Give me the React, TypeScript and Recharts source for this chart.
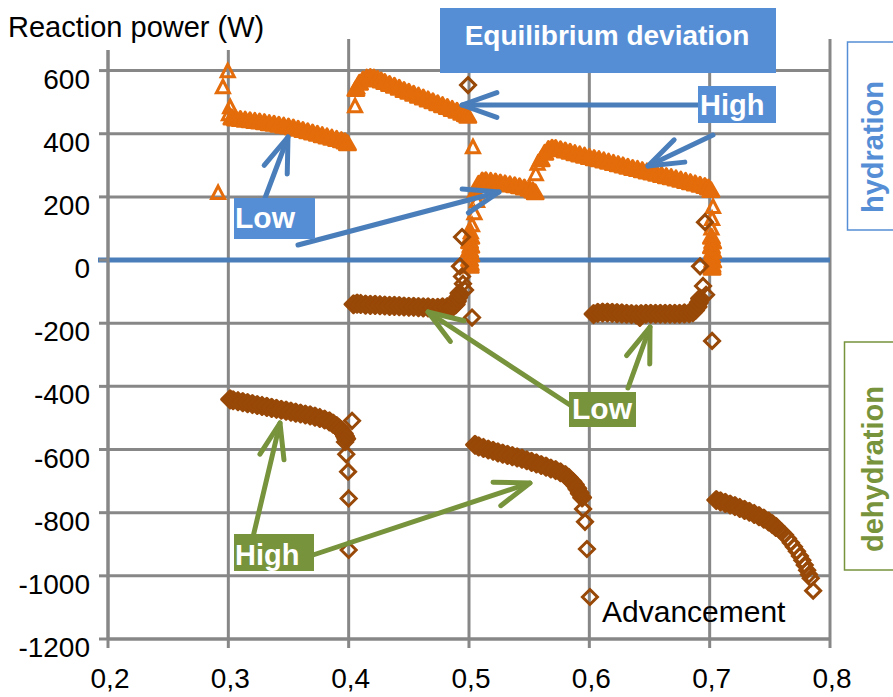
import { ScatterChart, Scatter, XAxis, YAxis, CartesianGrid, ReferenceLine } from "recharts";

const FONT = '"Liberation Sans", Arial, sans-serif';
const ORANGE = "#e46c0a";
const BROWN = "#984807";
const GRID = "#878787";
const BLUE_BOX = "#558ed5";
const BLUE_ARROW = "#4a7ebb";
const GREEN = "#77933c";

const xTicks = [0.2, 0.3, 0.4, 0.5, 0.6, 0.7, 0.8];
const yTicks = [-1200, -1000, -800, -600, -400, -200, 0, 200, 400, 600];

type Pt = [number, number];

// hydration (orange triangles) - dense runs
const hydRunA: Pt[] = [
  [0.303, 450], [0.306, 447], [0.31, 445], [0.314, 443], [0.318, 441], [0.322, 439], [0.326, 437],
  [0.33, 435], [0.334, 432], [0.338, 430], [0.342, 427], [0.346, 424], [0.35, 421], [0.354, 418],
  [0.358, 414], [0.362, 410], [0.366, 406], [0.37, 402], [0.374, 398], [0.378, 394], [0.382, 390],
  [0.386, 386], [0.39, 382], [0.394, 378], [0.397, 374], [0.399, 368],
];
const hydRunB: Pt[] = [
  [0.406, 540], [0.409, 560], [0.412, 570], [0.415, 576], [0.418, 578], [0.421, 576], [0.424, 572],
  [0.427, 567], [0.43, 562], [0.434, 556], [0.438, 550], [0.442, 544], [0.446, 537], [0.45, 531],
  [0.454, 525], [0.458, 519], [0.462, 513], [0.466, 507], [0.47, 501], [0.474, 495], [0.478, 489],
  [0.482, 483], [0.486, 477], [0.49, 471], [0.494, 465], [0.497, 460], [0.499, 455],
];
const hydCol05: Pt[] = [
  [0.5015, 72], [0.5005, 58], [0.5015, 44], [0.5005, 30], [0.5015, 16], [0.5005, 2], [0.501, -12], [0.501, -20],
];
const hydRunC: Pt[] = [
  [0.5055, 215], [0.508, 240], [0.511, 250], [0.514, 251], [0.518, 249], [0.522, 247], [0.526, 244],
  [0.53, 241], [0.534, 238], [0.538, 235], [0.542, 232], [0.546, 228], [0.55, 224], [0.553, 219], [0.555, 213],
];
const hydRunD: Pt[] = [
  [0.56, 318], [0.563, 338], [0.566, 350], [0.569, 354], [0.572, 353], [0.576, 349], [0.58, 345],
  [0.584, 341], [0.588, 337], [0.592, 333], [0.596, 329], [0.6, 325], [0.604, 321], [0.608, 318],
  [0.612, 314], [0.616, 310], [0.62, 306], [0.624, 302], [0.628, 298], [0.632, 294], [0.636, 290],
  [0.64, 287], [0.644, 283], [0.648, 279], [0.652, 276], [0.656, 272], [0.66, 268], [0.664, 264],
  [0.668, 261], [0.672, 257], [0.676, 253], [0.68, 249], [0.684, 245], [0.688, 241], [0.692, 237],
  [0.696, 233], [0.699, 228], [0.701, 220],
];
const hydCol07: Pt[] = [
  [0.7015, 72], [0.7025, 57], [0.7015, 42], [0.7025, 27], [0.7015, 12], [0.7025, -3], [0.702, -18], [0.702, -26],
];
const hydSparse: Pt[] = [
  [0.2915, 212], [0.2955, 547], [0.2995, 598], [0.3015, 484], [0.3005, 462],
  [0.4053, 487], [0.407, 547],
  [0.5033, 357], [0.5067, 187], [0.5045, 148], [0.5025, 110], [0.5015, 88],
  [0.5555, 272], [0.557, 305],
  [0.7028, 168], [0.702, 130], [0.7015, 100],
];

// dehydration (brown diamonds) - dense runs
const dehRunE: Pt[] = [
  [0.3015, -441], [0.304, -444], [0.308, -447], [0.312, -450], [0.316, -453], [0.32, -456], [0.324, -459],
  [0.328, -462], [0.332, -465], [0.336, -468], [0.34, -471], [0.344, -474], [0.348, -477], [0.352, -480],
  [0.356, -483], [0.36, -486], [0.364, -489], [0.368, -492], [0.372, -496], [0.376, -500], [0.38, -505],
  [0.384, -511], [0.387, -518], [0.39, -526], [0.392, -533], [0.394, -541], [0.396, -550], [0.397, -558],
  [0.398, -566],
];
const dehRunF: Pt[] = [
  [0.404, -140], [0.407, -138], [0.41, -139], [0.414, -141], [0.418, -142], [0.422, -142], [0.426, -143],
  [0.43, -144], [0.434, -145], [0.438, -145], [0.442, -146], [0.446, -147], [0.45, -148], [0.454, -148],
  [0.458, -149], [0.462, -150], [0.466, -150], [0.47, -151], [0.474, -151], [0.478, -150], [0.482, -149],
  [0.485, -148], [0.487, -146], [0.489, -140], [0.49, -130], [0.491, -118], [0.492, -105],
];
const dehRunG: Pt[] = [
  [0.505, -585], [0.508, -590], [0.512, -595], [0.516, -600], [0.52, -604], [0.524, -609], [0.528, -613],
  [0.532, -617], [0.536, -621], [0.54, -625], [0.544, -629], [0.548, -634], [0.552, -639], [0.556, -644],
  [0.56, -649], [0.564, -654], [0.568, -660], [0.572, -665], [0.576, -672], [0.58, -681], [0.583, -690],
  [0.586, -702], [0.588, -712], [0.59, -724], [0.592, -738], [0.594, -752],
];
const dehRunH: Pt[] = [
  [0.6035, -171], [0.607, -167], [0.611, -166], [0.615, -166], [0.619, -167], [0.623, -168], [0.627, -169],
  [0.631, -170], [0.635, -171], [0.639, -172], [0.642, -180], [0.643, -171], [0.647, -170], [0.651, -170],
  [0.655, -170], [0.659, -170], [0.663, -170], [0.667, -170], [0.671, -170], [0.675, -170], [0.679, -169],
  [0.683, -168], [0.686, -165], [0.688, -158], [0.69, -148], [0.691, -135], [0.692, -122],
];
const dehRunI: Pt[] = [
  [0.7055, -760], [0.709, -764], [0.713, -769], [0.717, -774], [0.721, -779], [0.725, -785], [0.729, -791],
  [0.733, -797], [0.737, -804], [0.741, -811], [0.745, -819], [0.749, -828], [0.752, -836], [0.755, -845],
];
const dehSparse: Pt[] = [
  [0.4028, -509], [0.397, -576], [0.398, -615], [0.3995, -670], [0.4, -755], [0.4, -918],
  [0.4992, 554], [0.4942, 73], [0.4925, -20], [0.4942, -52], [0.495, -75], [0.4967, -95], [0.5025, -182],
  [0.5948, -788], [0.5964, -829], [0.598, -915], [0.6005, -1067],
  [0.6961, 120], [0.692, -20], [0.6945, -82], [0.697, -110], [0.702, -256],
  [0.7575, -853], [0.76, -861], [0.7625, -870], [0.765, -882], [0.7675, -895], [0.77, -908], [0.7725, -922],
  [0.775, -937], [0.777, -951], [0.779, -966], [0.781, -982], [0.7825, -996], [0.784, -1008], [0.786, -1047],
];

const toObj = (arr: Pt[]) => arr.map(([x, y]) => ({ x, y }));
const hydDense = toObj([...hydRunA, ...hydRunB, ...hydCol05, ...hydRunC, ...hydRunD, ...hydCol07]);
const hydHollow = toObj(hydSparse);
const dehDense = toObj([...dehRunE, ...dehRunF, ...dehRunG, ...dehRunH, ...dehRunI]);
const dehHollow = toObj(dehSparse);

// filled shapes stand in for the heavily overlapped runs, hollow ones for isolated points
const triangle = (filled: boolean) => (p: any) =>
  filled ? (
    <path
      d={`M${p.cx},${p.cy - 8} L${p.cx + 8},${p.cy + 6} L${p.cx - 8},${p.cy + 6} Z`}
      fill={ORANGE}
      stroke={ORANGE}
      strokeWidth={3}
      strokeLinejoin="round"
    />
  ) : (
    <path
      d={`M${p.cx},${p.cy - 7} L${p.cx + 6.5},${p.cy + 5.5} L${p.cx - 6.5},${p.cy + 5.5} Z`}
      fill="none"
      stroke={ORANGE}
      strokeWidth={3}
    />
  );
const diamond = (filled: boolean) => (p: any) => {
  const r = filled ? 8.5 : 7.5;
  return (
    <path
      d={`M${p.cx},${p.cy - r} L${p.cx + r},${p.cy} L${p.cx},${p.cy + r} L${p.cx - r},${p.cy} Z`}
      fill={filled ? BROWN : "none"}
      stroke={BROWN}
      strokeWidth={3}
      strokeLinejoin={filled ? "round" : "miter"}
    />
  );
};

const YTick = (p: any) => (
  <text x={p.x} y={p.y + 18} textAnchor="end" fontSize={28} fontFamily={FONT} fill="#000">
    {p.payload.value}
  </text>
);
const XTick = (p: any) => (
  <text x={p.x + 2} y={p.y + 38} textAnchor="middle" fontSize={28} fontFamily={FONT} fill="#000">
    {p.payload.value.toFixed(1).replace(".", ",")}
  </text>
);

function Arrow({ x1, y1, x2, y2, color }: { x1: number; y1: number; x2: number; y2: number; color: string }) {
  const back = Math.atan2(y1 - y2, x1 - x2);
  const L = 37;
  const a = 0.34;
  const ax = x2 + L * Math.cos(back + a);
  const ay = y2 + L * Math.sin(back + a);
  const bx = x2 + L * Math.cos(back - a);
  const by = y2 + L * Math.sin(back - a);
  return (
    <g stroke={color} strokeWidth={5} strokeLinecap="round" strokeLinejoin="round" fill="none">
      <line x1={x1} y1={y1} x2={x2} y2={y2} />
      <polyline points={`${ax},${ay} ${x2},${y2} ${bx},${by}`} />
    </g>
  );
}

function Overlay() {
  return (
    <svg width={893} height={697} style={{ position: "absolute", left: 0, top: 0, pointerEvents: "none" }} fontFamily={FONT}>
      {/* title, with its white text box */}
      <rect x={0} y={0} width={300} height={50} fill="#fff" />
      <text x={8} y={37} fontSize={29} fill="#000">Reaction power (W)</text>

      {/* arrows */}
      <Arrow x1={698} y1={105} x2={462} y2={105} color={BLUE_ARROW} />
      <Arrow x1={713} y1={135} x2={648} y2={166} color={BLUE_ARROW} />
      <Arrow x1={265} y1={198} x2={288} y2={137} color={BLUE_ARROW} />
      <Arrow x1={298} y1={245} x2={499} y2={192} color={BLUE_ARROW} />
      <Arrow x1={570} y1={405} x2={428} y2={312} color={GREEN} />
      <Arrow x1={628} y1={388} x2={650} y2={327} color={GREEN} />
      <Arrow x1={253} y1={537} x2={280} y2={423} color={GREEN} />
      <Arrow x1={313} y1={555} x2={530} y2={483} color={GREEN} />

      {/* labels */}
      <rect x={440} y={8} width={336} height={65} fill={BLUE_BOX} />
      <text x={607} y={45} textAnchor="middle" fontSize={28} fontWeight="bold" fill="#fff">Equilibrium deviation</text>

      <rect x={698} y={86} width={78} height={37} fill={BLUE_BOX} />
      <text x={700} y={115} fontSize={29} fontWeight="bold" fill="#fff">High</text>

      <rect x={234} y={198} width={81} height={41} fill={BLUE_BOX} />
      <text x={235} y={228} fontSize={30} fontWeight="bold" fill="#fff">Low</text>

      <rect x={569} y={392} width={67} height={35} fill={GREEN} />
      <text x={572} y={419} fontSize={30} fontWeight="bold" fill="#fff">Low</text>

      <rect x={234} y={534} width={80} height={37} fill={GREEN} />
      <text x={235} y={565} fontSize={29} fontWeight="bold" fill="#fff">High</text>

      <text x={602} y={622} fontSize={30} fill="#000">Advancement</text>

      <rect x={847.5} y={42} width={60} height={188} fill="#fff" stroke={BLUE_BOX} strokeWidth={1.5} />
      <text transform="translate(883,147) rotate(-90)" textAnchor="middle" fontSize={29} fontWeight="bold" fill={BLUE_BOX}>hydration</text>

      <rect x={844.5} y={342} width={60} height={228} fill="#fff" stroke={GREEN} strokeWidth={1.5} />
      <text transform="translate(883,469) rotate(-90)" textAnchor="middle" fontSize={29} fontWeight="bold" fill={GREEN}>dehydration</text>
    </svg>
  );
}

export default function App() {
  return (
    <div style={{ position: "absolute", left: 0, top: 0, width: 893, height: 697, background: "#fff", fontFamily: FONT }}>
      <ScatterChart width={893} height={697} margin={{ top: 39, right: 63, bottom: 8, left: 8 }}>
        <CartesianGrid
          stroke={GRID}
          strokeWidth={3}
          horizontalValues={yTicks}
          verticalValues={xTicks}
          horizontal={{ stroke: GRID, strokeWidth: 3 }}
          vertical={{ stroke: GRID, strokeWidth: 3 }}
        />
        <XAxis
          type="number"
          dataKey="x"
          domain={[0.2, 0.8]}
          ticks={xTicks}
          interval={0}
          height={50}
          tickSize={9}
          tickMargin={2}
          allowDataOverflow
          axisLine={{ stroke: GRID, strokeWidth: 3 }}
          tickLine={{ stroke: GRID, strokeWidth: 3 }}
          tick={<XTick />}
        />
        <YAxis
          type="number"
          dataKey="y"
          domain={[-1200, 700]}
          ticks={yTicks}
          interval={0}
          width={100}
          tickSize={9}
          tickMargin={9}
          allowDataOverflow
          axisLine={{ stroke: GRID, strokeWidth: 3 }}
          tickLine={{ stroke: GRID, strokeWidth: 3 }}
          tick={<YTick />}
        />
        <Scatter name="hydration" data={hydDense} shape={triangle(true)} isAnimationActive={false} />
        <Scatter name="hydration sparse" data={hydHollow} shape={triangle(false)} isAnimationActive={false} />
        <Scatter name="dehydration" data={dehDense} shape={diamond(true)} isAnimationActive={false} />
        <Scatter name="dehydration sparse" data={dehHollow} shape={diamond(false)} isAnimationActive={false} />
        <ReferenceLine
          y={0}
          stroke={BLUE_ARROW}
          strokeWidth={5}
          shape={(p: any) => (
            <line x1={p.x1 - 10} y1={p.y1} x2={p.x2} y2={p.y2} stroke={BLUE_ARROW} strokeWidth={5} />
          )}
        />
      </ScatterChart>
      <Overlay />
    </div>
  );
}
